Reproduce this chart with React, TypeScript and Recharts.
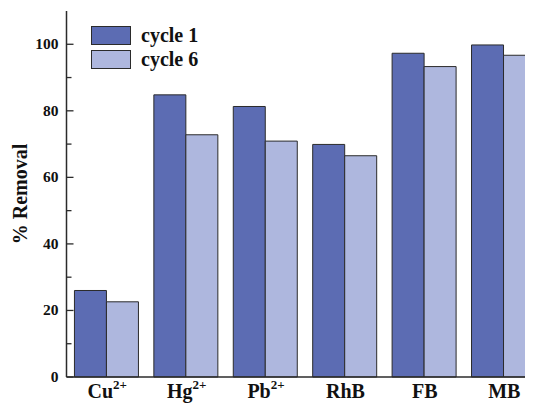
import React from 'react';
import { BarChart, Bar, XAxis, YAxis } from 'recharts';

const species = ['Cu', 'Hg', 'Pb', 'RhB', 'FB', 'MB'];
const charges = ['2+', '2+', '2+', '', '', ''];
const cycle1 = [26, 84.8, 81.3, 69.9, 97.3, 99.8];
const cycle6 = [22.6, 72.8, 70.9, 66.5, 93.3, 96.7];
const yTicks = [0, 10, 20, 30, 40, 50, 60, 70, 80, 90, 100];

const data = species.map((s, i) => ({
  name: s,
  charge: charges[i],
  c1: cycle1[i],
  c6: cycle6[i],
}));

const serif = '"Liberation Serif", "Times New Roman", serif';
const dark = '#2b2b2b';
const col1 = '#5c6cb3';
const col6 = '#aeb7de';

function XTick(props: any) {
  const { x, y, index } = props;
  const charge = charges[index];
  return (
    <text x={x + 1} y={y + 21} textAnchor="middle" fontFamily={serif} fontWeight="bold" fontSize={20} fill="#111">
      <tspan>{species[index]}</tspan>
      {charge && (
        <tspan fontSize={13} dy={-9}>
          {charge}
        </tspan>
      )}
    </text>
  );
}

function YTick(props: any) {
  const { x, y, payload } = props;
  const major = payload.value % 20 === 0;
  return (
    <g>
      <line x1={x} x2={x + (major ? 7 : 5)} y1={y} y2={y} stroke={dark} strokeWidth={1.3} />
      {major && (
        <text x={x - 8} y={y + 5} textAnchor="end" fontFamily={serif} fontWeight="bold" fontSize={15.5} fill="#111">
          {payload.value}
        </text>
      )}
    </g>
  );
}

function YLabel(props: any) {
  const { viewBox } = props;
  const x = viewBox.x + 18.5;
  const y = viewBox.y + viewBox.height / 2;
  return (
    <text
      x={x}
      y={y}
      transform={`rotate(-90, ${x}, ${y})`}
      textAnchor="middle"
      fontFamily={serif}
      fontWeight="bold"
      fontSize={20}
      fill="#111"
    >
      % Removal
    </text>
  );
}

function LegendBox() {
  const items = [
    { label: 'cycle 1', color: col1 },
    { label: 'cycle 6', color: col6 },
  ];
  return (
    <div style={{ position: 'absolute', top: 15, left: 83 }}>
      {items.map((it) => (
        <div key={it.label} style={{ display: 'flex', alignItems: 'center', height: 24 }}>
          <div
            style={{
              width: 38,
              height: 17,
              background: it.color,
              border: `1.3px solid ${dark}`,
              marginRight: 10,
            }}
          />
          <span style={{ fontFamily: serif, fontWeight: 'bold', fontSize: 20, color: '#111' }}>{it.label}</span>
        </div>
      ))}
    </div>
  );
}

export default function App() {
  return (
    <div style={{ position: 'relative', width: 525, height: 395 }}>
      <BarChart
        width={560}
        height={395}
        data={data}
        margin={{ top: 3, right: 25, bottom: 0, left: 0 }}
        barCategoryGap="10%"
        barGap={0}
      >
        <XAxis
          dataKey="name"
          height={26}
          axisLine={{ stroke: dark, strokeWidth: 1.5 }}
          tickLine={false}
          tickSize={0}
          tickMargin={0}
          tick={<XTick />}
          interval={0}
        />
        <XAxis
          xAxisId="top"
          dataKey="name"
          orientation="top"
          height={0}
          axisLine={{ stroke: dark, strokeWidth: 1.5 }}
          tickLine={false}
          tick={false}
        />
        <YAxis
          width={58.5}
          domain={[0, 110]}
          ticks={yTicks}
          interval={0}
          tickSize={0}
          tickMargin={0}
          tickLine={false}
          axisLine={{ stroke: dark, strokeWidth: 1.5 }}
          tick={<YTick />}
          label={<YLabel />}
        />
        <Bar dataKey="c1" name="cycle 1" fill={col1} stroke={dark} strokeWidth={1} isAnimationActive={false} />
        <Bar dataKey="c6" name="cycle 6" fill={col6} stroke={dark} strokeWidth={1} isAnimationActive={false} />
      </BarChart>
      <LegendBox />
    </div>
  );
}
